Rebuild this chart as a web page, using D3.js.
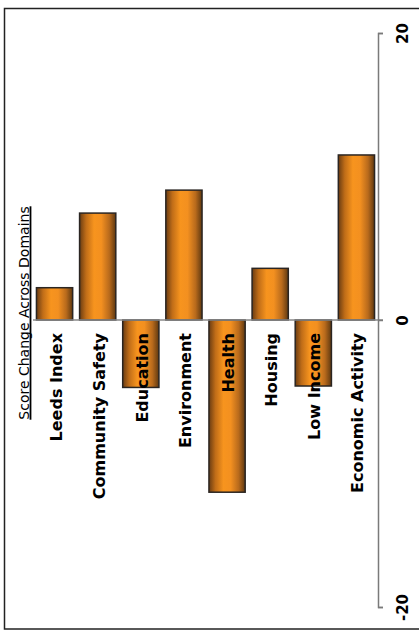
<!DOCTYPE html>
<html><head><meta charset="utf-8">
<script src="https://cdn.jsdelivr.net/npm/d3@7/dist/d3.min.js"></script>
<style>html,body{margin:0;padding:0;background:#fff;}svg{display:block;}</style>
</head><body>
<script>
const categories = ["Leeds Index","Community Safety","Education","Environment","Health","Housing","Low Income","Economic Activity"];
const values = [2.25, 7.45, -4.7, 9.05, -12.0, 3.6, -4.6, 11.5];
const tickValues = [20, 0, -20];
const title = "Score Change Across Domains";

const W = 419, H = 631;
const svg = d3.select("body").append("svg").attr("width", W).attr("height", H);

const defs = svg.append("defs");
const grad = defs.append("linearGradient").attr("id","barGrad").attr("x1","0%").attr("x2","100%").attr("y1","0%").attr("y2","0%");
[["0%","#6a3c12"],["18%","#c06d18"],["40%","#f7941e"],["60%","#f39020"],["82%","#b86a1c"],["100%","#5e3810"]]
  .forEach(s => grad.append("stop").attr("offset", s[0]).attr("stop-color", s[1]));

// outer frame
svg.append("rect").attr("x",4.5).attr("y",8.5).attr("width",W+10).attr("height",620.5)
  .attr("fill","none").attr("stroke","#222").attr("stroke-width",1.5);

const x = d3.scaleBand().domain(categories).range([33, 378]).paddingInner(0.16).paddingOuter(0.08);
const y = d3.scaleLinear().domain([-20, 20]).range([607, 33]);

// bars
svg.append("g").selectAll("rect").data(values).join("rect")
  .attr("x", (d,i) => x(categories[i]))
  .attr("width", x.bandwidth())
  .attr("y", d => y(Math.max(0,d)))
  .attr("height", d => Math.abs(y(d) - y(0)))
  .attr("fill","url(#barGrad)")
  .attr("stroke","#2a2522").attr("stroke-width",1.5);

// baseline
svg.append("line").attr("x1",33).attr("x2",383).attr("y1",y(0)).attr("y2",y(0))
  .attr("stroke","#8a8a8a").attr("stroke-width",1.5);

// value axis
const axis = d3.axisRight(y).tickValues(tickValues).tickSize(5).tickFormat(d => String(d));
const ag = svg.append("g").attr("transform","translate(378,0)").call(axis);
ag.select(".domain").attr("stroke","#7a7a7a").attr("stroke-width",1.5);
ag.selectAll(".tick line").attr("stroke","#7a7a7a").attr("stroke-width",1.5);
ag.selectAll(".tick text")
  .attr("x",0).attr("y",0).attr("dy",0)
  .attr("transform","translate(30,0) rotate(-90)")
  .attr("text-anchor","middle")
  .attr("font-family","DejaVu Sans").attr("font-weight","bold").attr("font-size","15px").attr("fill","#000");

// category labels
svg.append("g").selectAll("text").data(categories).join("text")
  .attr("transform", d => `translate(${x(d)+x.bandwidth()/2+7},333) rotate(-90)`)
  .attr("text-anchor","end")
  .attr("font-family","DejaVu Sans").attr("font-weight","bold").attr("font-size","16px").attr("fill","#000")
  .text(d => d);

// title
const t = svg.append("text")
  .attr("transform","translate(28.5,313) rotate(-90)")
  .attr("text-anchor","middle")
  .attr("font-family","DejaVu Sans").attr("font-size","14px").attr("fill","#000")
  .text(title);
const bb = t.node().getBBox();
svg.append("line").attr("x1",30.5).attr("x2",30.5)
  .attr("y1",313 - bb.width/2).attr("y2",313 + bb.width/2)
  .attr("stroke","#000").attr("stroke-width",1.8);
</script>
</body></html>
